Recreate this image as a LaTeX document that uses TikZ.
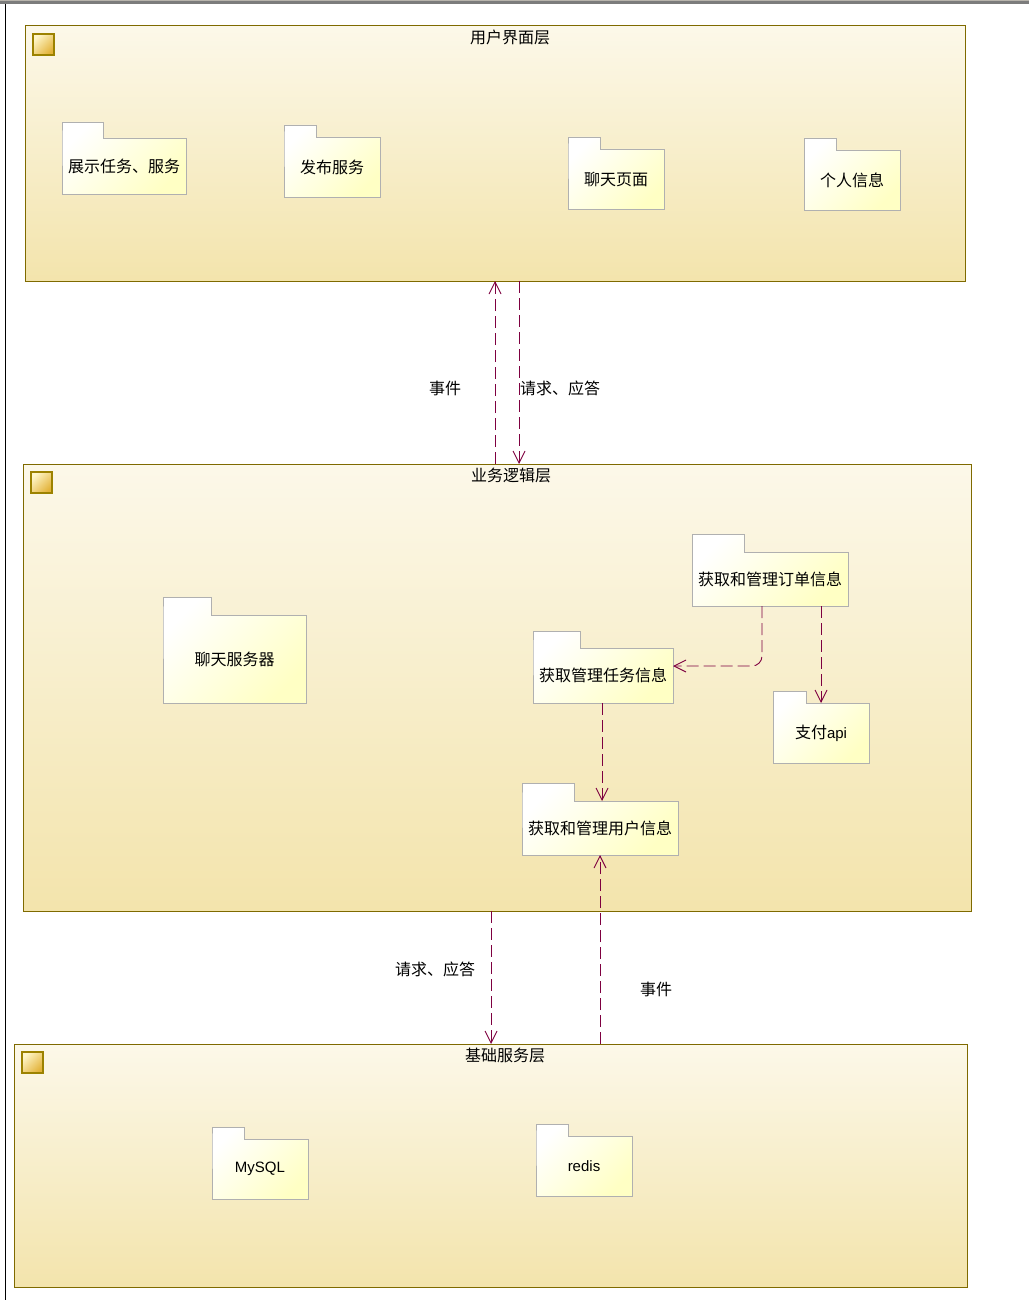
\documentclass[tikz,border=0pt]{standalone}
\usepackage{fontspec}
\setmainfont{Liberation Sans}
\newfontfamily\cjk{Noto Sans CJK SC}
\usetikzlibrary{arrows.meta}
\definecolor{layerborder}{HTML}{7F6A00}
\definecolor{layertop}{HTML}{FCF8E9}
\definecolor{layerbot}{HTML}{F3E4AC}
\definecolor{pkgborder}{HTML}{B0B0B0}
\definecolor{pkgyellow}{HTML}{FFFFC4}
\definecolor{depcolor}{HTML}{7E0040}
\definecolor{iconborder}{HTML}{9C8200}
\definecolor{iconlight}{HTML}{FFF6C8}
\definecolor{icondark}{HTML}{E2B238}
\definecolor{chromelight}{HTML}{B8B4AC}
\definecolor{chromedark}{HTML}{7C7C7C}
\tikzset{
  layer/.style={draw=layerborder, line width=1pt, top color=layertop, bottom color=layerbot, inner sep=0pt, outer sep=0pt},
  layertitle/.style={font=\cjk\fontsize{16pt}{18pt}\selectfont, inner sep=0pt, anchor=center},
  icon/.style={draw=iconborder, line width=1.6pt, top color=iconlight, bottom color=icondark, shading angle=45},
  pkgshape/.style={draw=pkgborder, line width=0.9pt, top color=white, bottom color=pkgyellow, shading angle=45},
  pkgtext/.style={inner sep=0pt, outer sep=0pt, draw=none, font=\cjk\fontsize{16pt}{18pt}\selectfont},
  latin/.style={font=\fontspec{Liberation Sans}\fontsize{15pt}{17pt}\selectfont},
  dep/.style={draw=depcolor, line width=0.9pt, dash pattern=on 12pt off 5pt, -{Straight Barb[length=12pt,width=12pt,line width=0.9pt]}},
  deplabel/.style={font=\cjk\fontsize{16pt}{18pt}\selectfont, inner sep=0pt},
}
\newcommand\pkgbox[9][]{%
  \shade[pkgshape] (#3,#6) -- (#3,#5) -- (#4,#5) -- (#4,#6) -- (#7,#6) -- (#7,#8) -- (#3,#8) -- cycle;
  \node[pkgtext, #1, minimum width={(#7-#3)*1pt}, minimum height={(#8-#6)*1pt}] (#2) at ({(#3+#7)/2},{(#6+#8)/2}) {#9};
}
\begin{document}
\begin{tikzpicture}[x=1pt,y=-1pt]
\useasboundingbox (0,0) rectangle (1029,1300);
\fill[white] (0,0) rectangle (1029,1300);
% window chrome
\fill[chromelight] (0,0) rectangle (1029,1.5);
\fill[chromedark] (0,1.5) rectangle (1029,4.5);
\fill[black] (5,4.5) rectangle (6.3,1300);

% layers
\node[layer, minimum width=940pt, minimum height=255pt] (ui) at (495,153.5) {};
\node[layertitle] (uititle) at (510,37) {用户界面层};
\shade[icon] (33,34) rectangle (54,55);

\node[layer, minimum width=948pt, minimum height=447pt] (biz) at (497,687.5) {};
\node[layertitle] (biztitle) at (511,475) {业务逻辑层};
\shade[icon] (31,472) rectangle (52,493);

\node[layer, minimum width=953pt, minimum height=243pt] (base) at (490.5,1165.5) {};
\node[layertitle] (basetitle) at (505,1055) {基础服务层};
\shade[icon] (22,1052) rectangle (43,1073);

% packages in UI layer
\pkgbox{show}{62}{103}{122}{138}{186}{194}{展示任务、服务}
\pkgbox{publish}{284}{316}{125}{137}{380}{197}{发布服务}
\pkgbox{chatpage}{568}{600}{137}{149}{664}{209}{聊天页面}
\pkgbox{profile}{804}{836}{138}{150}{900}{210}{个人信息}

% packages in business layer
\pkgbox{chatsrv}{163}{211}{597}{615}{306}{703}{聊天服务器}
\pkgbox{order}{692}{744}{534}{552}{848}{606}{获取和管理订单信息}
\pkgbox{task}{533}{580}{631}{648}{673}{703}{获取管理任务信息}
\pkgbox{pay}{773}{806}{691}{703}{869}{763}{支付{\fontspec{Liberation Sans}\fontsize{15pt}{17pt}\selectfont api}}
\pkgbox{user}{522}{574}{783}{801}{678}{855}{获取和管理用户信息}

% packages in base layer
\pkgbox[latin]{mysql}{212}{244}{1127}{1139}{308}{1199}{MySQL}
\pkgbox[latin]{redis}{536}{568}{1124}{1136}{632}{1196}{redis}

% dependencies
\draw[dep] (495,0 |- biz.north) -- (495,0 |- ui.south);
\draw[dep] (519,0 |- ui.south) -- (519,0 |- biz.north);
\node[deplabel] (l1) at (445,388) {事件};
\node[deplabel] (l2) at (560,388) {请求、应答};

\draw[dep, rounded corners=10pt] (762,0 |- order.south) |- (task.east |- 0,666);
\draw[dep] (821,0 |- order.south) -- (821,0 |- pay.north);
\draw[dep] (602,0 |- task.south) -- (602,0 |- user.north);

\draw[dep] (491,0 |- biz.south) -- (491,0 |- base.north);
\draw[dep] (600,0 |- base.north) -- (600,0 |- user.south);
\node[deplabel] (l3) at (435,969) {请求、应答};
\node[deplabel] (l4) at (656,989) {事件};
\end{tikzpicture}
\end{document}
